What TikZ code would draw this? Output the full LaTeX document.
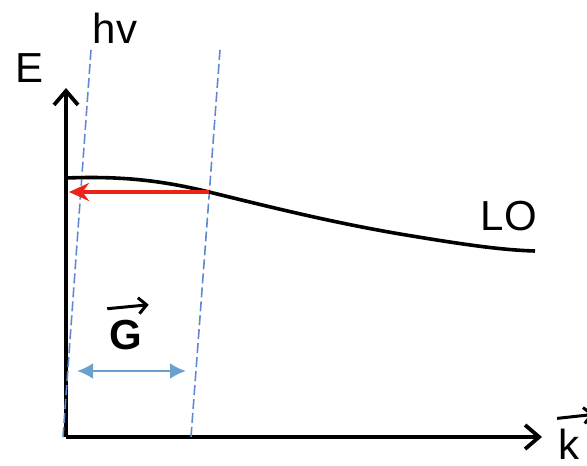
\documentclass[tikz,border=0pt]{standalone}
\usepackage{fontspec}
\setmainfont{Liberation Sans}
\usepackage{tikz}
\usetikzlibrary{arrows.meta,positioning}
\definecolor{dashblue}{RGB}{95,135,210}
\definecolor{gblue}{RGB}{105,160,205}
\definecolor{arrowred}{RGB}{235,35,25}

\begin{document}
\begin{tikzpicture}[x=0.5pt, y=-0.5pt, font=\fontsize{21}{25}\selectfont]
	\useasboundingbox (0,0) rectangle (587,465);
	\tikzset{axis/.style={line width=1.9pt, -{Straight Barb[length=7pt, width=12pt, line width=1.9pt]}},
		photon/.style={dashblue, dashed, line width=0.8pt, dash pattern=on 5pt off 2pt},
		label/.style={inner sep=0pt}}
	% axes
	\coordinate (o) at (66,437);
	\coordinate (ytip) at (66,88);
	\coordinate (xtip) at (542,437);
	\draw[axis] (o) -- (ytip);
	\draw[axis] (o) -- (xtip);
	% photon lines
	\coordinate (p1t) at (91,50);
	\coordinate (p1b) at (63,437);
	\coordinate (p2t) at (220,50);
	\coordinate (p2b) at (191,437);
	\draw[photon] (p1t) -- (p1b);
	\draw[photon] (p2t) -- (p2b);
	% LO branch
	\coordinate (cut) at (209,192);
	\coordinate (zone) at (69,192);
	\draw[line width=1.8pt] (66,178) .. controls (120,176) and (160,180) .. (cut)
		.. controls (270,207) and (330,222) .. (400,234)
		.. controls (460,244) and (500,250) .. (535,251);
	\draw[arrowred, line width=1.8pt, -{Stealth[length=10pt, width=9pt]}] (cut) -- (zone);
	% G vector
	\coordinate (ga) at (77,371);
	\coordinate (gb) at (186,371);
	\draw[gblue, line width=1.4pt, {Latex[length=8pt, width=8pt]}-{Latex[length=8pt, width=8pt]}] (ga) -- (gb);
	% labels
	\node[label] (E) at (30,68) {E};
	\node[label] (hv) at (115,28) {hv};
	\node[label] (LO) at (509,216) {LO};
	\node[label] (G) at (126,335) {\textbf{G}};
	\node[label] (k) at (569,444) {k};
	\draw[line width=1.5pt, -{Straight Barb[length=4pt, width=8pt, line width=1.5pt]}] ([shift={(-2,-11)}]G.north west) -- ([shift={(6,-15)}]G.north east);
	\draw[line width=1.5pt, -{Straight Barb[length=4pt, width=8pt, line width=1.5pt]}] ([shift={(-1,-10)}]k.north west) -- ([shift={(14,-14)}]k.north east);
\end{tikzpicture}
\end{document}
